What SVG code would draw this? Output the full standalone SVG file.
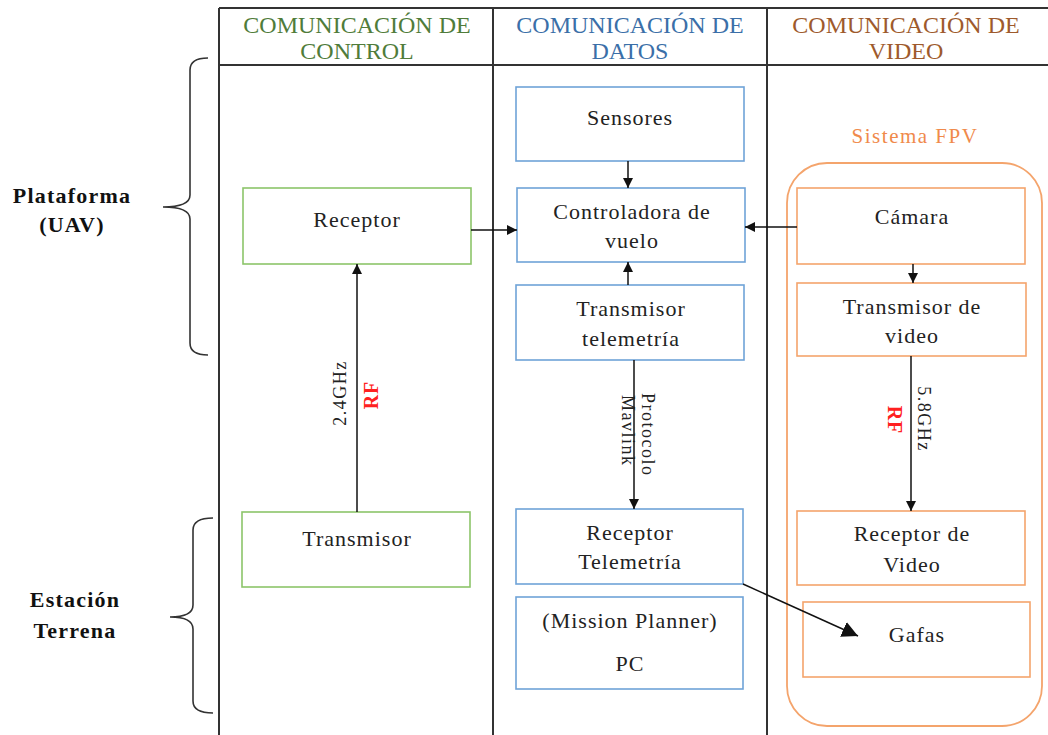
<svg xmlns="http://www.w3.org/2000/svg" width="1048" height="735" viewBox="0 0 1048 735">
<defs>
<style>
text{font-family:"Liberation Serif","Times New Roman",serif;fill:#222;}
.t{font-size:22px;text-anchor:middle;letter-spacing:1px;}
.h{font-size:24px;text-anchor:middle;}
.lbl{font-size:22px;font-weight:bold;text-anchor:middle;fill:#111;letter-spacing:1.2px;}
.grid{stroke:#333;stroke-width:2;fill:none;}
.g{fill:#fff;stroke:#8CC56A;stroke-width:1.6;}
.b{fill:#fff;stroke:#6FA3D8;stroke-width:1.6;}
.o{fill:#fff;stroke:#F4A46C;stroke-width:1.6;}
.c{stroke:#111;stroke-width:1.5;fill:none;}
.brace{stroke:#333;stroke-width:1.6;fill:none;}
.sm{font-size:18px;letter-spacing:1.5px;}
.rf{font-size:20px;font-weight:bold;fill:#FF2020;letter-spacing:1px;}
</style>
<marker id="ah" viewBox="0 0 10 10" refX="10" refY="5" markerWidth="10" markerHeight="10" markerUnits="userSpaceOnUse" orient="auto">
<path d="M0,0 L10,5 L0,10 Z" fill="#111"/>
</marker>
<marker id="ahL" viewBox="0 0 10 10" refX="10" refY="5" markerWidth="16" markerHeight="16" markerUnits="userSpaceOnUse" orient="auto">
<path d="M0,0 L10,5 L0,10 Z" fill="#111"/>
</marker>
</defs>
<rect width="1048" height="735" fill="#fff"/>

<g id="table">
<line class="grid" x1="219" y1="8" x2="1048" y2="8"/>
<line class="grid" x1="219" y1="65" x2="1048" y2="65"/>
<line class="grid" x1="219" y1="8" x2="219" y2="735"/>
<line class="grid" x1="493" y1="8" x2="493" y2="735"/>
<line class="grid" x1="767" y1="8" x2="767" y2="735"/>
<text class="h" x="357" y="33" style="fill:#507C3A">COMUNICACIÓN DE</text>
<text class="h" x="357" y="59" style="fill:#507C3A">CONTROL</text>
<text class="h" x="630" y="33" style="fill:#3B6FA8">COMUNICACIÓN DE</text>
<text class="h" x="630" y="59" style="fill:#3B6FA8">DATOS</text>
<text class="h" x="906" y="33" style="fill:#9E5A2C">COMUNICACIÓN DE</text>
<text class="h" x="906" y="59" style="fill:#9E5A2C">VIDEO</text>
</g>

<g id="brace-plataforma">
<path class="brace" d="M208,58 Q190,58 190,70 L190,195 Q190,207 163,207 Q190,207 190,219 L190,343 Q190,355 208,355"/>
<text class="lbl" x="72" y="203">Plataforma</text>
<text class="lbl" x="72" y="232">(UAV)</text>
</g>

<g id="brace-estacion">
<path class="brace" d="M213,518 Q193,518 193,530 L193,605 Q193,617 170,617 Q193,617 193,629 L193,701 Q193,713 213,713"/>
<text class="lbl" x="75" y="607">Estación</text>
<text class="lbl" x="75" y="638">Terrena</text>
</g>

<g id="fpv">
<rect x="787" y="163" width="255" height="563" rx="40" ry="40" fill="none" stroke="#F4A46C" stroke-width="1.8"/>
<text class="t" x="915" y="143" style="font-size:21px;letter-spacing:1.5px;fill:#F08A4B">Sistema FPV</text>
</g>

<g id="receptor">
<rect class="g" x="243" y="188" width="228" height="76"/>
<text class="t" x="357" y="227">Receptor</text>
</g>
<g id="transmisor">
<rect class="g" x="242" y="512" width="228" height="75"/>
<text class="t" x="357" y="546">Transmisor</text>
</g>

<g id="sensores">
<rect class="b" x="516" y="87" width="228" height="74"/>
<text class="t" x="630" y="125">Sensores</text>
</g>
<g id="controladora">
<rect class="b" x="517" y="188" width="228" height="74"/>
<text class="t" x="632" y="219">Controladora de</text>
<text class="t" x="632" y="248">vuelo</text>
</g>
<g id="transmisor-telemetria">
<rect class="b" x="516" y="285" width="228" height="75"/>
<text class="t" x="631" y="316">Transmisor</text>
<text class="t" x="631" y="346">telemetría</text>
</g>
<g id="receptor-telemetria">
<rect class="b" x="516" y="509" width="227" height="75"/>
<text class="t" x="630" y="540">Receptor</text>
<text class="t" x="630" y="569">Telemetría</text>
</g>
<g id="pc">
<rect class="b" x="516" y="597" width="227" height="92"/>
<text class="t" x="630" y="628">(Mission Planner)</text>
<text class="t" x="630" y="671">PC</text>
</g>

<g id="camara">
<rect class="o" x="797" y="188" width="228" height="76"/>
<text class="t" x="912" y="224">Cámara</text>
</g>
<g id="transmisor-video">
<rect class="o" x="797" y="283" width="229" height="73"/>
<text class="t" x="912" y="314">Transmisor de</text>
<text class="t" x="912" y="343">video</text>
</g>
<g id="receptor-video">
<rect class="o" x="797" y="511" width="228" height="74"/>
<text class="t" x="912" y="541">Receptor de</text>
<text class="t" x="912" y="572">Video</text>
</g>
<g id="gafas">
<rect class="o" x="803" y="602" width="227" height="75"/>
<text class="t" x="917" y="642">Gafas</text>
</g>

<g id="connectors">
<line class="c" x1="471" y1="230" x2="517" y2="230" marker-end="url(#ah)"/>
<line class="c" x1="797" y1="227" x2="745" y2="227" marker-end="url(#ah)"/>
<line class="c" x1="628" y1="161" x2="628" y2="188" marker-end="url(#ah)"/>
<line class="c" x1="628" y1="285" x2="628" y2="262" marker-end="url(#ah)"/>
<line class="c" x1="913" y1="264" x2="913" y2="283" marker-end="url(#ah)"/>
<line class="c" x1="357" y1="512" x2="357" y2="264" marker-end="url(#ah)"/>
<line class="c" x1="634" y1="360" x2="634" y2="509" marker-end="url(#ah)"/>
<line class="c" x1="911" y1="356" x2="911" y2="511" marker-end="url(#ah)"/>
<line class="c" x1="743" y1="584" x2="858" y2="636" marker-end="url(#ahL)"/>
<text class="sm" transform="translate(346,393) rotate(-90)" text-anchor="middle">2.4GHz</text>
<text class="rf" transform="translate(378,395) rotate(-90)" text-anchor="middle">RF</text>
<text class="sm" transform="translate(642,393) rotate(90)">Protocolo</text>
<text class="sm" transform="translate(622,395) rotate(90)">Mavlink</text>
<text class="sm" transform="translate(918,419) rotate(90)" text-anchor="middle">5.8GHz</text>
<text class="rf" transform="translate(888,420) rotate(90)" text-anchor="middle">RF</text>
</g>
</svg>
